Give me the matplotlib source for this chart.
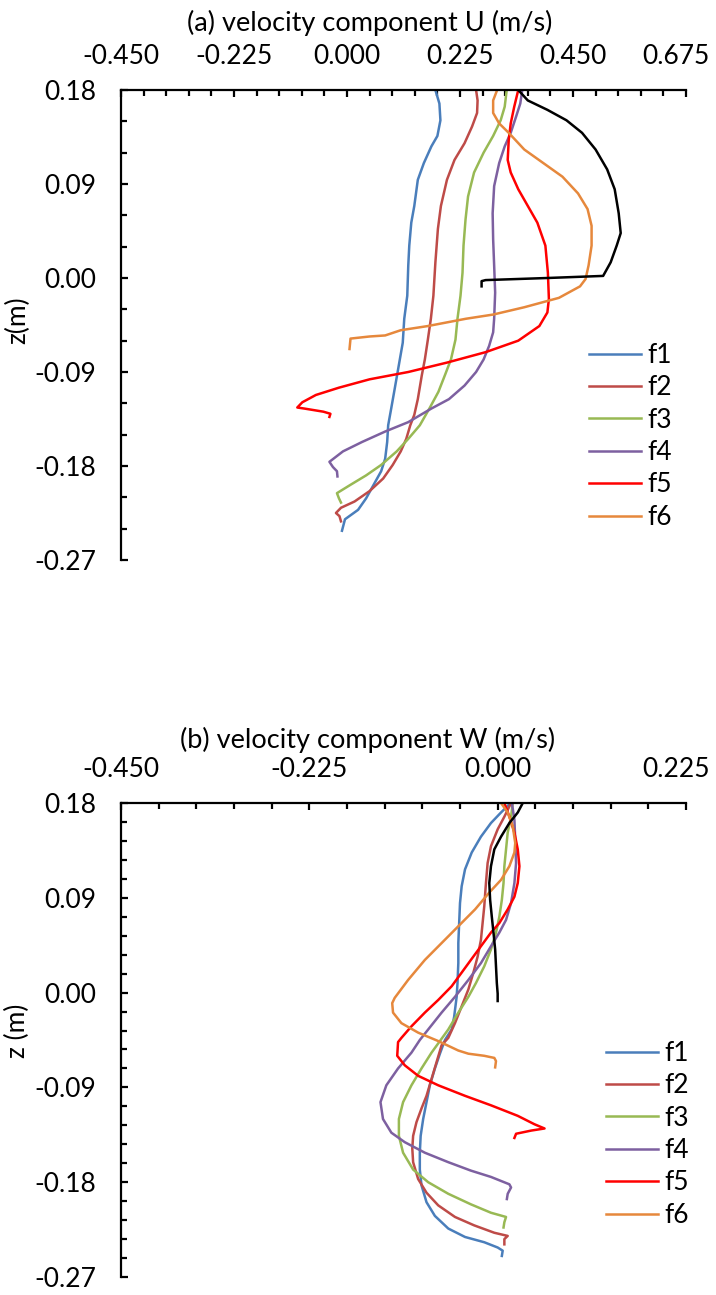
import numpy as np
import matplotlib
matplotlib.use('Agg')
import matplotlib.pyplot as plt
import matplotlib.transforms as mtransforms
from matplotlib.ticker import MultipleLocator, FormatStrFormatter

plt.rcParams['font.family'] = ['Lato', 'DejaVu Sans']
plt.rcParams['axes.unicode_minus'] = False

# ---- panel (a): velocity component U, (x, z) pairs
u_f1_x = [0.176, 0.184, 0.186, 0.180, 0.168, 0.153, 0.141, 0.134, 0.128, 0.124, 0.122, 0.120, 0.114,
          0.111, 0.103, 0.095, 0.088, 0.082, 0.080, 0.076, 0.068, 0.053, 0.038, 0.022, -0.004, -0.010]
u_f1_z = [0.180, 0.167, 0.151, 0.136, 0.126, 0.110, 0.094, 0.069, 0.053, 0.031, 0.012, -0.017, -0.039,
          -0.062, -0.084, -0.106, -0.125, -0.141, -0.157, -0.173, -0.185, -0.198, -0.211, -0.222, -0.231, -0.242]

u_f2_x = [0.257, 0.260, 0.259, 0.249, 0.234, 0.214, 0.199, 0.187, 0.181, 0.176, 0.172, 0.167, 0.161,
          0.155, 0.149, 0.141, 0.134, 0.126, 0.118, 0.107, 0.091, 0.072, 0.045, 0.015, -0.012, -0.022, -0.015, -0.012]
u_f2_z = [0.180, 0.170, 0.158, 0.145, 0.129, 0.113, 0.094, 0.069, 0.047, 0.015, -0.017, -0.039, -0.059,
          -0.078, -0.093, -0.116, -0.131, -0.141, -0.154, -0.166, -0.179, -0.192, -0.204, -0.214, -0.220, -0.225, -0.228, -0.233]

u_f3_x = [0.318, 0.314, 0.306, 0.291, 0.272, 0.253, 0.241, 0.236, 0.232, 0.230, 0.226, 0.220, 0.216,
          0.207, 0.195, 0.182, 0.164, 0.145, 0.122, 0.099, 0.068, 0.038, 0.007, -0.020, -0.016, -0.012]
u_f3_z = [0.180, 0.164, 0.151, 0.136, 0.120, 0.101, 0.078, 0.056, 0.031, 0.005, -0.017, -0.039, -0.059,
          -0.078, -0.093, -0.109, -0.125, -0.141, -0.154, -0.166, -0.179, -0.189, -0.198, -0.206, -0.211, -0.215]

u_f4_x = [0.349, 0.345, 0.337, 0.326, 0.314, 0.303, 0.293, 0.290, 0.291, 0.293, 0.295, 0.293, 0.291,
          0.283, 0.272, 0.257, 0.234, 0.203, 0.168, 0.122, 0.076, 0.030, -0.008, -0.035, -0.028, -0.020, -0.019]
u_f4_z = [0.180, 0.167, 0.155, 0.139, 0.126, 0.110, 0.088, 0.062, 0.037, 0.012, -0.014, -0.039, -0.052,
          -0.065, -0.078, -0.090, -0.103, -0.116, -0.125, -0.138, -0.147, -0.157, -0.166, -0.176, -0.181, -0.185, -0.190]

u_f5_x = [0.341, 0.333, 0.326, 0.322, 0.320, 0.326, 0.341, 0.360, 0.379, 0.395, 0.400, 0.402, 0.399,
          0.383, 0.341, 0.276, 0.199, 0.122, 0.045, -0.016, -0.062, -0.089, -0.099, -0.085, -0.047, -0.033, -0.035]
u_f5_z = [0.180, 0.164, 0.148, 0.132, 0.113, 0.101, 0.085, 0.069, 0.053, 0.031, 0.005, -0.020, -0.033,
          -0.046, -0.060, -0.071, -0.081, -0.090, -0.097, -0.105, -0.112, -0.119, -0.124, -0.125, -0.128, -0.130, -0.133]

u_f6_x = [0.299, 0.291, 0.291, 0.303, 0.322, 0.353, 0.391, 0.429, 0.460, 0.479, 0.487, 0.487, 0.481,
          0.475, 0.464, 0.422, 0.353, 0.291, 0.237, 0.161, 0.107, 0.076, 0.045, 0.007, 0.005]
u_f6_z = [0.180, 0.170, 0.158, 0.148, 0.139, 0.123, 0.110, 0.097, 0.081, 0.066, 0.050, 0.031, 0.012,
          -0.001, -0.008, -0.019, -0.028, -0.035, -0.039, -0.046, -0.050, -0.055, -0.056, -0.058, -0.068]

u_ref_x = [0.341, 0.360, 0.399, 0.437, 0.468, 0.495, 0.518, 0.533, 0.541, 0.545, 0.537, 0.525, 0.510,
           0.399, 0.276, 0.268, 0.268]
u_ref_z = [0.180, 0.170, 0.161, 0.151, 0.139, 0.123, 0.104, 0.085, 0.062, 0.043, 0.031, 0.015, 0.002,
           0.000, -0.002, -0.003, -0.008]

# ---- panel (b): velocity component W
w_f1_x = [0.013, 0.004, -0.008, -0.020, -0.031, -0.039, -0.043, -0.045, -0.046, -0.047, -0.047, -0.048,
          -0.049, -0.052, -0.055, -0.063, -0.069, -0.075, -0.081, -0.085, -0.089, -0.092, -0.093, -0.093,
          -0.091, -0.085, -0.075, -0.059, -0.039, -0.016, 0.000, 0.006, 0.005]
w_f1_z = [0.178, 0.171, 0.161, 0.148, 0.133, 0.117, 0.101, 0.085, 0.066, 0.047, 0.028, 0.009,
          -0.004, -0.023, -0.035, -0.045, -0.058, -0.072, -0.088, -0.104, -0.120, -0.136, -0.152, -0.168,
          -0.183, -0.199, -0.212, -0.224, -0.232, -0.237, -0.242, -0.245, -0.250]

w_f2_x = [0.016, 0.008, 0.000, -0.008, -0.012, -0.014, -0.016, -0.018, -0.020, -0.024, -0.029, -0.035,
          -0.043, -0.051, -0.059, -0.067, -0.073, -0.079, -0.085, -0.091, -0.097, -0.101, -0.102, -0.101,
          -0.095, -0.085, -0.071, -0.051, -0.028, -0.004, 0.012, 0.008, 0.008]
w_f2_z = [0.180, 0.167, 0.155, 0.139, 0.123, 0.104, 0.082, 0.066, 0.050, 0.034, 0.019, 0.003,
          -0.013, -0.029, -0.043, -0.050, -0.066, -0.082, -0.098, -0.110, -0.123, -0.136, -0.148, -0.161,
          -0.177, -0.190, -0.202, -0.213, -0.221, -0.228, -0.231, -0.234, -0.239]

w_f3_x = [0.018, 0.016, 0.012, 0.010, 0.008, 0.007, 0.005, 0.002, -0.002, -0.008, -0.016, -0.026,
          -0.035, -0.047, -0.059, -0.079, -0.091, -0.103, -0.113, -0.118, -0.118, -0.113, -0.101, -0.083,
          -0.059, -0.032, -0.008, 0.010, 0.008, 0.007]
w_f3_z = [0.180, 0.167, 0.152, 0.136, 0.120, 0.104, 0.088, 0.072, 0.057, 0.041, 0.025, 0.009,
          -0.004, -0.019, -0.035, -0.057, -0.072, -0.088, -0.104, -0.120, -0.136, -0.152, -0.168, -0.180,
          -0.191, -0.201, -0.209, -0.213, -0.218, -0.223]

w_f4_x = [0.017, 0.020, 0.021, 0.022, 0.020, 0.016, 0.010, 0.002, -0.008, -0.020, -0.035, -0.051,
          -0.067, -0.083, -0.093, -0.103, -0.119, -0.133, -0.140, -0.137, -0.127, -0.111, -0.087, -0.059,
          -0.032, -0.008, 0.014, 0.016, 0.012, 0.011]
w_f4_z = [0.180, 0.164, 0.145, 0.123, 0.104, 0.085, 0.069, 0.057, 0.044, 0.028, 0.012, -0.004,
          -0.019, -0.035, -0.045, -0.057, -0.072, -0.088, -0.104, -0.120, -0.133, -0.142, -0.152, -0.161,
          -0.169, -0.175, -0.182, -0.185, -0.191, -0.196]

w_f5_x = [0.008, 0.014, 0.020, 0.024, 0.026, 0.024, 0.020, 0.012, 0.002, -0.008, -0.020, -0.032,
          -0.043, -0.055, -0.071, -0.087, -0.103, -0.115, -0.119, -0.120, -0.111, -0.095, -0.071, -0.039,
          -0.008, 0.024, 0.044, 0.056, 0.040, 0.022, 0.020]
w_f5_z = [0.180, 0.167, 0.152, 0.136, 0.120, 0.104, 0.091, 0.079, 0.066, 0.057, 0.044, 0.031,
          0.019, 0.006, -0.007, -0.019, -0.032, -0.043, -0.047, -0.060, -0.069, -0.079, -0.088, -0.098,
          -0.107, -0.117, -0.125, -0.129, -0.131, -0.134, -0.138]

w_f6_x = [0.004, 0.012, 0.018, 0.021, 0.020, 0.014, 0.004, -0.010, -0.027, -0.047, -0.067, -0.087,
          -0.107, -0.123, -0.126, -0.125, -0.115, -0.095, -0.071, -0.047, -0.035, -0.016, -0.004, -0.002, -0.003]
w_f6_z = [0.180, 0.171, 0.158, 0.142, 0.133, 0.120, 0.107, 0.095, 0.079, 0.063, 0.047, 0.031,
          0.012, -0.005, -0.010, -0.019, -0.029, -0.038, -0.046, -0.055, -0.058, -0.060, -0.062, -0.065, -0.071]

w_ref_x = [0.030, 0.024, 0.014, 0.004, -0.004, -0.008, -0.010, -0.009, -0.007, -0.005, -0.003, -0.002,
           -0.001, 0.000, 0.000]
w_ref_z = [0.180, 0.171, 0.161, 0.148, 0.136, 0.120, 0.104, 0.088, 0.072, 0.057, 0.041, 0.025,
           0.009, -0.001, -0.008]

labels = ['f1', 'f2', 'f3', 'f4', 'f5', 'f6']
colors = ['#4A7EBB', '#BE4B48', '#98B954', '#7D60A0', '#FF0000', '#E6883C']

u_series = [(u_f1_x, u_f1_z), (u_f2_x, u_f2_z), (u_f3_x, u_f3_z),
            (u_f4_x, u_f4_z), (u_f5_x, u_f5_z), (u_f6_x, u_f6_z)]
w_series = [(w_f1_x, w_f1_z), (w_f2_x, w_f2_z), (w_f3_x, w_f3_z),
            (w_f4_x, w_f4_z), (w_f5_x, w_f5_z), (w_f6_x, w_f6_z)]

FS = 19
W, H = 716, 1295


def style_axis(ax, xlim, xminor, yminor, ylabel, ylab_y):
    ax.set_xlim(*xlim)
    ax.set_ylim(-0.27, 0.18)
    for s in ['right', 'bottom']:
        ax.spines[s].set_visible(False)
    for s in ['left', 'top']:
        ax.spines[s].set_linewidth(1.6)
    ax.xaxis.tick_top()
    ax.xaxis.set_major_locator(MultipleLocator(0.225))
    ax.xaxis.set_minor_locator(MultipleLocator(xminor))
    ax.yaxis.set_major_locator(MultipleLocator(0.09))
    ax.yaxis.set_minor_locator(MultipleLocator(yminor))
    ax.xaxis.set_major_formatter(FormatStrFormatter('%.3f'))
    ax.yaxis.set_major_formatter(FormatStrFormatter('%.2f'))
    ax.tick_params(which='both', direction='in', width=1.6, labelsize=FS)
    ax.tick_params(axis='x', pad=15)
    ax.tick_params(axis='y', pad=18)
    ax.tick_params(which='major', length=5)
    ax.tick_params(which='minor', length=4.5)
    ax.set_ylabel(ylabel, fontsize=FS)
    ax.yaxis.set_label_coords(-0.161, ylab_y)


fig = plt.figure(figsize=(W / 100, H / 100), dpi=100)
ax1 = fig.add_axes([121 / W, 1 - 560 / H, 565 / W, 470 / H])
ax2 = fig.add_axes([121 / W, 1 - 1277 / H, 565 / W, 474 / H])

for (x, z), lab, c in zip(u_series, labels, colors):
    ax1.plot(x, z, color=c, lw=1.8, label=lab)
ax1.plot(u_ref_x, u_ref_z, color='black', lw=1.8)
style_axis(ax1, (-0.45, 0.675), 0.045, 0.03, 'z(m)', 0.51)
ax1.legend(loc='upper left', bbox_to_anchor=(0.805, 0.49), frameon=False, fontsize=FS,
           handlelength=1.97, handletextpad=0.23, labelspacing=0.28, borderpad=0)

for (x, z), lab, c in zip(w_series, labels, colors):
    ax2.plot(x, z, color=c, lw=1.8, label=lab)
ax2.plot(w_ref_x, w_ref_z, color='black', lw=1.8)
style_axis(ax2, (-0.45, 0.225), 0.045, 0.018, 'z (m)', 0.52)
ax2.legend(loc='upper left', bbox_to_anchor=(0.835, 0.526), frameon=False, fontsize=FS,
           handlelength=1.97, handletextpad=0.23, labelspacing=0.28, borderpad=0)

fig.text(0.516, 1 - 23 / H, '(a) velocity component U (m/s)', ha='center', va='center', fontsize=19.5)
fig.text(0.514, 1 - 740 / H, '(b) velocity component W (m/s)', ha='center', va='center', fontsize=19.5)

# keep the last top tick label inside the figure, as the original does
shift = mtransforms.ScaledTranslation(-10 / 100, 0, fig.dpi_scale_trans)
for ax in (ax1, ax2):
    xmax = ax.get_xlim()[1]
    locs = list(ax.xaxis.get_majorticklocs())
    ticks = ax.xaxis.get_major_ticks(len(locs))
    for loc, tick in zip(locs, ticks):
        if abs(loc - xmax) < 1e-9:
            tick.label2.set_transform(tick.label2.get_transform() + shift)

fig.savefig('out.png', dpi=100)
